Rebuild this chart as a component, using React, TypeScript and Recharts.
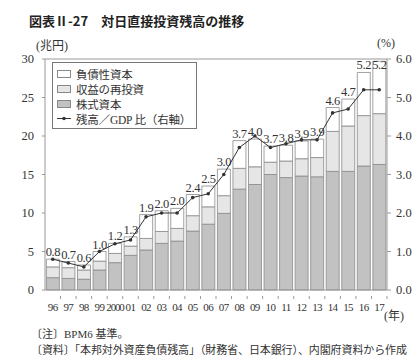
import React from 'react';
import {
  ComposedChart, Bar, Line, XAxis, YAxis, LabelList, ReferenceLine, Legend,
} from 'recharts';

const years = ['96', '97', '98', '99', '2000', '01', '02', '03', '04', '05', '06', '07', '08', '09', '10', '11', '12', '13', '14', '15', '16', '17'];
const stockCapital = [1.6, 1.5, 1.4, 2.6, 3.55, 4.5, 5.2, 6.05, 6.35, 7.65, 8.55, 9.95, 13.1, 13.7, 15.0, 14.6, 14.8, 14.7, 15.4, 15.4, 16.1, 16.3];
const reinvested = [1.4, 1.4, 1.2, 1.15, 1.2, 1.2, 1.5, 1.55, 1.65, 2.0, 2.25, 2.3, 2.7, 2.3, 1.6, 2.15, 2.25, 2.5, 5.2, 5.9, 6.55, 6.6];
const debtCapital = [1.0, 0.8, 0.65, 1.25, 1.3, 1.2, 3.1, 2.7, 2.6, 2.75, 2.7, 3.45, 3.6, 3.6, 2.1, 2.05, 2.3, 2.4, 3.1, 3.5, 5.6, 6.8];
const gdpRatio = [0.8, 0.7, 0.6, 1.0, 1.2, 1.3, 1.9, 2.0, 2.0, 2.4, 2.5, 3.0, 3.7, 4.0, 3.7, 3.8, 3.9, 3.9, 4.6, 4.7, 5.2, 5.2];
const leftTicks = [0, 5, 10, 15, 20, 25, 30];
const rightTicks = [0, 1, 2, 3, 4, 5, 6];

const title = '図表Ⅱ-27　対日直接投資残高の推移';
const leftUnit = '(兆円)';
const rightUnit = '(%)';
const xUnit = '(年)';
const note1 = '〔注〕BPM6 基準。';
const note2 = '〔資料〕「本邦対外資産負債残高」（財務省、日本銀行）、内閣府資料から作成';

const names = {
  debt: '負債性資本',
  reinvest: '収益の再投資',
  stock: '株式資本',
  ratio: '残高／GDP 比（右軸）',
};

const data = years.map((y, i) => ({
  year: y,
  stock: stockCapital[i],
  reinvest: reinvested[i],
  debt: debtCapital[i],
  ratio: gdpRatio[i],
}));

const SERIF = '"Liberation Serif", "DejaVu Serif", "Noto Sans CJK JP", serif';
const CJK = '"Liberation Serif", "Noto Sans CJK JP", sans-serif';

const PLOT_TOP = 59;
const PLOT_W = 342;
const BAND = PLOT_W / years.length;

const XTick = (props: any) => {
  const { x, y, payload } = props;
  const isLong = String(payload.value).length > 2;
  return (
    <g>
      <line x1={x + BAND / 2} x2={x + BAND / 2} y1={y - 2} y2={y + 1} stroke="#999" />
      <text
        x={x}
        y={y + 13}
        textAnchor="middle"
        fontSize={11}
        fontFamily={SERIF}
        fill="#333"
        letterSpacing={isLong ? -1.2 : -0.6}
      >
        {payload.value}
      </text>
    </g>
  );
};

const RatioLabel = (props: any) => {
  const { x, y, width, value } = props;
  const baseline = Math.max(y - 3, PLOT_TOP + 10);
  return (
    <text
      x={x + width / 2}
      y={baseline}
      textAnchor="middle"
      fontSize={12.5}
      fontFamily={SERIF}
      fill="#333"
      letterSpacing={-0.4}
    >
      {Number(value).toFixed(1)}
    </text>
  );
};

const LegendBox = () => {
  const items = [
    { key: 'debt', fill: '#ffffff', type: 'bar' },
    { key: 'reinvest', fill: '#e6e6e6', type: 'bar' },
    { key: 'stock', fill: '#c2c2c2', type: 'bar' },
    { key: 'ratio', fill: '#333', type: 'line' },
  ];
  return (
    <div
      style={{
        border: '1px solid #777',
        background: '#fff',
        padding: '3px 2px 3px 3px',
        width: 145,
        height: 67,
        boxSizing: 'border-box',
        fontFamily: CJK,
        fontSize: 11.5,
        letterSpacing: -0.2,
        color: '#333',
        overflow: 'visible',
      }}
    >
      {items.map((it) => (
        <div key={it.key} style={{ display: 'flex', alignItems: 'center', height: 15, whiteSpace: 'nowrap' }}>
          {it.type === 'bar' ? (
            <div style={{ width: 12, height: 6, background: it.fill, border: '1px solid #888', marginRight: 5, marginLeft: 1, flexShrink: 0 }} />
          ) : (
            <svg width={14} height={7} style={{ marginRight: 5, marginLeft: 1, flexShrink: 0 }}>
              <line x1={0} x2={14} y1={3.5} y2={3.5} stroke="#333" strokeWidth={1} />
              <circle cx={7} cy={3.5} r={1.8} fill="#333" />
            </svg>
          )}
          <span>{(names as any)[it.key]}</span>
        </div>
      ))}
    </div>
  );
};

export default function App() {
  return (
    <div style={{ position: 'absolute', left: 0, top: 0, width: 420, height: 364, background: '#fff', overflow: 'hidden' }}>
      <div style={{ position: 'absolute', left: 29, top: 11, fontFamily: '"Noto Sans CJK JP", sans-serif', fontWeight: 700, fontSize: 13, color: '#222', whiteSpace: 'nowrap' }}>
        {title}
      </div>
      <div style={{ position: 'absolute', left: 36, top: 36, fontFamily: CJK, fontSize: 12, color: '#333', whiteSpace: 'nowrap' }}>
        {leftUnit}
      </div>
      <div style={{ position: 'absolute', left: 377, top: 36, fontFamily: CJK, fontSize: 12, color: '#333', whiteSpace: 'nowrap' }}>
        {rightUnit}
      </div>
      <div style={{ position: 'absolute', left: 0, top: 0 }}>
        <ComposedChart width={420} height={320} data={data} margin={{ top: PLOT_TOP, right: 3, bottom: 8, left: 8 }} barCategoryGap="9%">
          <XAxis
            dataKey="year"
            height={22}
            interval={0}
            tick={<XTick />}
            tickLine={false}
            axisLine={{ stroke: '#999' }}
          />
          <YAxis
            yAxisId="left"
            width={37}
            domain={[0, 30]}
            ticks={leftTicks}
            interval={0}
            tickSize={3}
            tickMargin={8}
            tick={{ fontSize: 12.5, fontFamily: SERIF, fill: '#333' }}
            tickLine={{ stroke: '#999' }}
            axisLine={{ stroke: '#999' }}
          />
          <YAxis
            yAxisId="right"
            orientation="right"
            width={30}
            domain={[0, 6]}
            ticks={rightTicks}
            interval={0}
            tickSize={4}
            tickMargin={5}
            tickFormatter={(v: number) => v.toFixed(1)}
            tick={{ fontSize: 12.5, fontFamily: SERIF, fill: '#333' }}
            tickLine={{ stroke: '#999' }}
            axisLine={{ stroke: '#999' }}
          />
          <ReferenceLine yAxisId="left" y={30} stroke="#999" />
          <Legend
            layout="vertical"
            align="center"
            verticalAlign="middle"
            content={<LegendBox />}
            wrapperStyle={{ left: 52, top: 62, width: 145, height: 67 }}
          />
          <Bar yAxisId="left" dataKey="stock" name={names.stock} stackId="s" fill="#c2c2c2" stroke="#8a8a8a" strokeWidth={0.8} isAnimationActive={false} />
          <Bar yAxisId="left" dataKey="reinvest" name={names.reinvest} stackId="s" fill="#e6e6e6" stroke="#8a8a8a" strokeWidth={0.8} isAnimationActive={false} />
          <Bar yAxisId="left" dataKey="debt" name={names.debt} stackId="s" fill="#ffffff" stroke="#8a8a8a" strokeWidth={0.8} isAnimationActive={false}>
            <LabelList dataKey="ratio" content={<RatioLabel />} />
          </Bar>
          <Line
            yAxisId="right"
            type="linear"
            dataKey="ratio"
            name={names.ratio}
            stroke="#333"
            strokeWidth={1}
            dot={{ r: 1.8, fill: '#333', stroke: '#333', strokeWidth: 0 }}
            activeDot={false}
            isAnimationActive={false}
          />
        </ComposedChart>
      </div>
      <div style={{ position: 'absolute', left: 384, top: 306, fontFamily: CJK, fontSize: 12, color: '#333', whiteSpace: 'nowrap' }}>
        {xUnit}
      </div>
      <div style={{ position: 'absolute', left: 31, top: 325, fontFamily: CJK, fontSize: 11, color: '#333', whiteSpace: 'nowrap' }}>
        {note1}
      </div>
      <div style={{ position: 'absolute', left: 31, top: 341, fontFamily: CJK, fontSize: 11, color: '#333', whiteSpace: 'nowrap', letterSpacing: -0.1 }}>
        {note2}
      </div>
    </div>
  );
}
